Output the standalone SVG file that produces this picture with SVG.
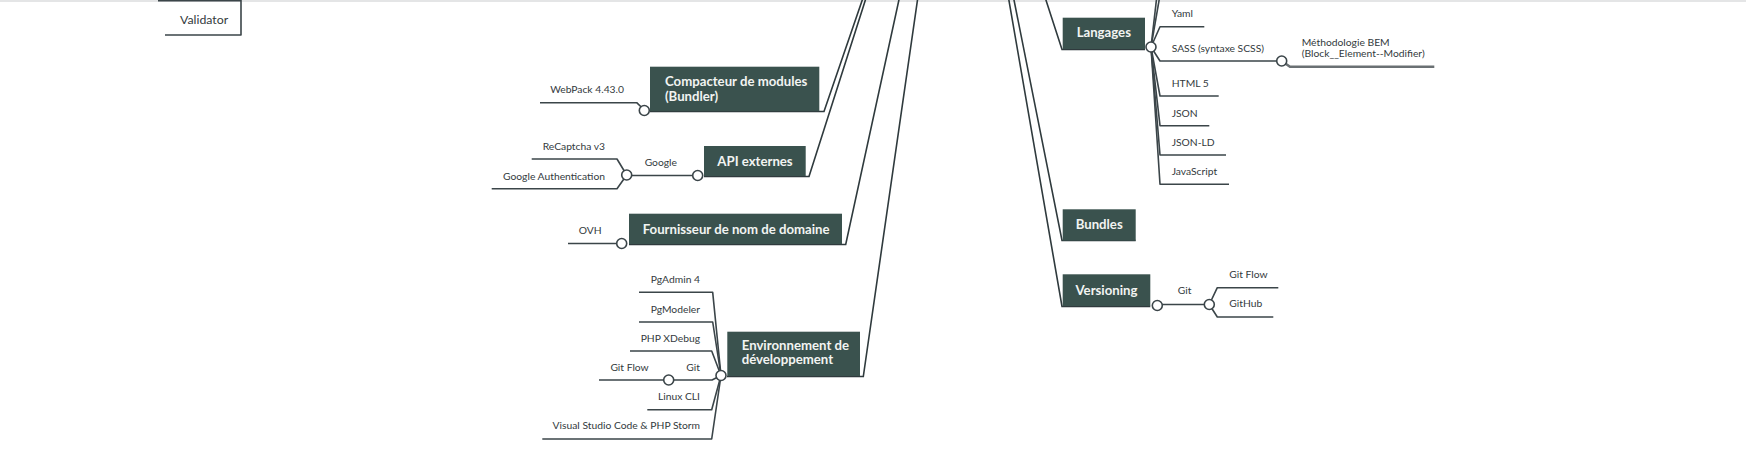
<svg xmlns="http://www.w3.org/2000/svg" width="1746" height="474" viewBox="0 0 1746 474">
<style>
.bg{fill:#ffffff}
.box{fill:#3a524e}
.t{font-family:Lato,"Open Sans","Liberation Sans",sans-serif;font-weight:700;font-size:13.2px;fill:#f2f4f2}
.c{font-family:Lato,"Open Sans","Liberation Sans",sans-serif;font-size:10.3px;fill:#333a3d}
.e{text-anchor:end}
.ln{stroke:#3b4549;stroke-width:1.6;fill:none;stroke-linejoin:round}
.main{stroke:#2f3a3d;stroke-width:1.6;fill:none}
.thick{stroke:#6a7073;stroke-width:2.6;fill:none}
.dot{fill:#ffffff;stroke:#3b4549;stroke-width:1.6}
</style>
<rect class="bg" x="0" y="0" width="1746" height="474"/>
<rect x="0" y="0" width="1746" height="2" fill="#e4e5e6"/>

<g id="connectors">
  <polyline class="main" points="650,111.5 824,111.5 864,-5"/>
  <polyline class="main" points="704,176.5 809,176.5 867,-5"/>
  <polyline class="main" points="629,244.5 845.7,244.5 900,-5"/>
  <polyline class="main" points="727,376.5 863.3,376.5 918.2,-5"/>
  <polyline class="main" points="1145,49.5 1062,49.5 1044.3,-5"/>
  <polyline class="main" points="1135.7,240.5 1062,240.5 1013,-5"/>
  <polyline class="main" points="1150.3,306.5 1062,306.5 1008,-5"/>
  <polyline class="ln" points="158,0.8 241,0.8"/>
  <polyline class="ln" points="165,35 241,35 241,-5"/>
  <polyline class="ln" points="540,102.7 636.7,102.7 644.3,110"/>
  <line class="ln" x1="626.7" y1="175.5" x2="697.7" y2="175.5"/>
  <polyline class="ln" points="531.7,159 617,159 626.7,175"/>
  <polyline class="ln" points="491.7,188.7 617,188.7 626.7,175"/>
  <line class="ln" x1="568" y1="243.5" x2="621.7" y2="243.5"/>
  <polyline class="ln" points="639,292.3 712.7,292.3 721,375.5"/>
  <polyline class="ln" points="639,322 712.7,322 721,375.5"/>
  <polyline class="ln" points="630,351 711.7,351 721,375.5"/>
  <polyline class="ln" points="599,380 712,380 721,375.5"/>
  <polyline class="ln" points="647.3,409.7 711.7,409.7 721,375.5"/>
  <polyline class="ln" points="542.3,439 711.7,439 721,375.5"/>
  <line class="ln" x1="1151" y1="47" x2="1157" y2="-5"/>
  <line class="ln" x1="1151" y1="47" x2="1160" y2="-5"/>
  <polyline class="ln" points="1151,47 1160,26.7 1204.3,26.7"/>
  <polyline class="ln" points="1151,47 1160,61 1281.7,61"/>
  <polyline class="ln" points="1151,47 1160,96 1218.7,96"/>
  <polyline class="ln" points="1151,47 1160,125.7 1209.3,125.7"/>
  <polyline class="ln" points="1151,47 1160,155 1226,155"/>
  <polyline class="ln" points="1151,47 1160,184.3 1229,184.3"/>
  <polyline class="thick" points="1281.7,61 1290,66.7 1434.3,66.7"/>
  <line class="ln" x1="1157.3" y1="304.5" x2="1209.3" y2="304.5"/>
  <polyline class="ln" points="1209.3,304.5 1217.3,287.7 1278.3,287.7"/>
  <polyline class="ln" points="1209.3,304.5 1217.3,317 1273.3,317"/>
</g>

<g id="node-validator"><text class="c" x="180" y="24" style="font-size:12.3px">Validator</text></g>

<g id="node-compacteur">
  <rect class="box" x="650" y="66.7" width="169.3" height="44.5"/>
  <text class="t" x="665" y="86">Compacteur de modules</text>
  <text class="t" x="665" y="101">(Bundler)</text>
  <circle class="dot" cx="644.3" cy="110.5" r="5"/>
</g>
<g id="node-webpack"><text class="c e" x="624" y="93">WebPack 4.43.0</text></g>

<g id="node-api">
  <rect class="box" x="704" y="146" width="101.7" height="30"/>
  <text class="t" x="755" y="165.7" text-anchor="middle">API externes</text>
  <circle class="dot" cx="697.7" cy="175.5" r="5"/>
</g>
<g id="node-google">
  <text class="c e" x="677" y="165.7">Google</text>
  <circle class="dot" cx="626.7" cy="175" r="5"/>
</g>
<g id="node-recaptcha"><text class="c e" x="605" y="150">ReCaptcha v3</text></g>
<g id="node-googleauth"><text class="c e" x="605" y="179.5">Google Authentication</text></g>

<g id="node-fournisseur">
  <rect class="box" x="629" y="213.7" width="213" height="30.3"/>
  <text class="t" x="642.7" y="234">Fournisseur de nom de domaine</text>
  <circle class="dot" cx="621.7" cy="243.5" r="5"/>
</g>
<g id="node-ovh"><text class="c e" x="601.7" y="234">OVH</text></g>

<g id="node-env">
  <rect class="box" x="727.3" y="331.7" width="132.7" height="44.3"/>
  <text class="t" x="741.7" y="350">Environnement de</text>
  <text class="t" x="741.7" y="364.3">développement</text>
  <circle class="dot" cx="721" cy="375.5" r="5"/>
</g>
<g id="node-pgadmin"><text class="c e" x="700" y="282.7">PgAdmin 4</text></g>
<g id="node-pgmodeler"><text class="c e" x="700" y="312.7">PgModeler</text></g>
<g id="node-xdebug"><text class="c e" x="700" y="341.7">PHP XDebug</text></g>
<g id="node-git-env">
  <text class="c e" x="700" y="370.7">Git</text>
  <circle class="dot" cx="668.7" cy="380" r="5"/>
</g>
<g id="node-gitflow-env"><text class="c e" x="648.7" y="370.7">Git Flow</text></g>
<g id="node-linux"><text class="c e" x="700" y="400">Linux CLI</text></g>
<g id="node-vscode"><text class="c e" x="700" y="429.3">Visual Studio Code &amp; PHP Storm</text></g>

<g id="node-langages">
  <rect class="box" x="1062.7" y="17.7" width="82.3" height="31.3"/>
  <text class="t" x="1103.8" y="36.7" text-anchor="middle">Langages</text>
  <circle class="dot" cx="1151" cy="47" r="5"/>
</g>
<g id="node-yaml"><text class="c" x="1171.7" y="17.3">Yaml</text></g>
<g id="node-sass">
  <text class="c" x="1171.7" y="51.7">SASS (syntaxe SCSS)</text>
  <circle class="dot" cx="1281.7" cy="61" r="5"/>
</g>
<g id="node-bem">
  <text class="c" x="1301.7" y="46">Méthodologie BEM</text>
  <text class="c" x="1301.7" y="57">(Block__Element--Modifier)</text>
</g>
<g id="node-html"><text class="c" x="1171.7" y="86.7">HTML 5</text></g>
<g id="node-json"><text class="c" x="1171.7" y="116.7">JSON</text></g>
<g id="node-jsonld"><text class="c" x="1171.7" y="145.7">JSON-LD</text></g>
<g id="node-js"><text class="c" x="1171.7" y="175">JavaScript</text></g>

<g id="node-bundles">
  <rect class="box" x="1062.7" y="209.3" width="73" height="31.3"/>
  <text class="t" x="1099.2" y="229.3" text-anchor="middle">Bundles</text>
</g>

<g id="node-versioning">
  <rect class="box" x="1062.7" y="274.3" width="87.6" height="31.7"/>
  <text class="t" x="1106.5" y="295" text-anchor="middle">Versioning</text>
  <circle class="dot" cx="1157.3" cy="305.5" r="5"/>
</g>
<g id="node-git-ver">
  <text class="c" x="1177.7" y="294.3">Git</text>
  <circle class="dot" cx="1209.3" cy="304.5" r="5"/>
</g>
<g id="node-gitflow-ver"><text class="c" x="1229.3" y="278.3">Git Flow</text></g>
<g id="node-github"><text class="c" x="1229.3" y="307.3">GitHub</text></g>
</svg>
